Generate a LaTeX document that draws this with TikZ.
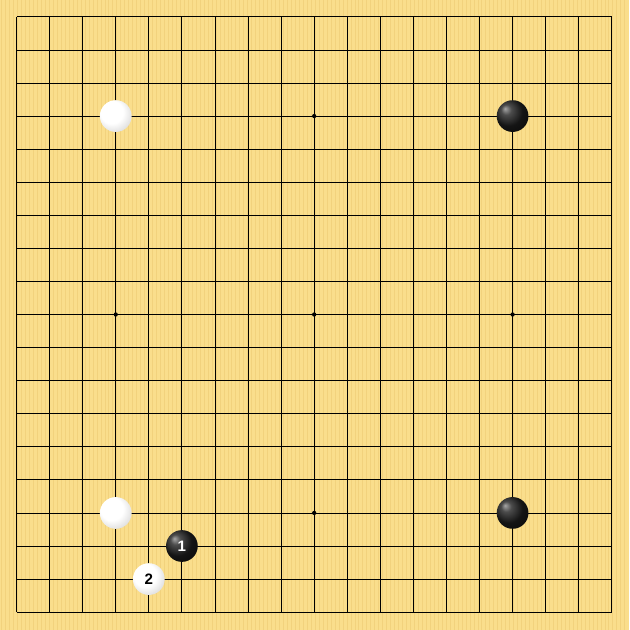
\documentclass[tikz,border=0pt]{standalone}
\usepackage{tikz}
\usepackage{fontspec}
\newfontfamily\stonefont{Liberation Sans}

\definecolor{wood}{RGB}{250,222,140}
\definecolor{woodgrain}{RGB}{236,200,112}
\pgfdeclareradialshading{whiteball}{\pgfpoint{-10bp}{10bp}}{%
  color(0bp)=(white); color(18bp)=(white); color(30bp)=(black!12);
  color(42bp)=(black!35); color(50bp)=(black!45)}
\pgfdeclareradialshading{blackball}{\pgfpoint{-12bp}{12bp}}{%
  color(0bp)=(black!35); color(8bp)=(black!70); color(22bp)=(black!92);
  color(50bp)=(black)}
\tikzset{
  stone/.style={circle, inner sep=0pt, minimum size=0.96cm,
    font=\stonefont\fontsize{13}{13}\selectfont\bfseries},
  blackstone/.style={stone, shading=blackball, text=white},
  whitestone/.style={stone, shading=whiteball, text=black},
  hoshi/.style={circle, fill=black, inner sep=0pt, minimum size=0.13cm}
}

\begin{document}
\begin{tikzpicture}[x=1cm, y=-1cm]
    % Board
    \fill[wood] (-0.5,-0.5) rectangle (18.53,18.53);
    \foreach \x in {-0.45,-0.33,...,18.5}
      \draw[woodgrain, line width=0.02cm, opacity=0.5] (\x,-0.5) -- (\x,18.53);
    % Lines
    \foreach \i in {0,...,18} {
      \draw[line width=0.7pt] (\i,0) -- (\i,18);
      \draw[line width=0.7pt] (0,\i) -- (18,\i);
    }
    % Star points
    \foreach \x in {3,9,15}
      \foreach \y in {3,9,15}
        \node[hoshi] (h\x\y) at (\x,\y) {};
    % Stones
    \node[whitestone] (wul) at (3,3) {};
    \node[blackstone] (bur) at (15,3) {};
    \node[whitestone] (wll) at (3,15) {};
    \node[blackstone] (blr) at (15,15) {};
    % Moves
    \node[blackstone] (move1) at (5,16) {1};
    \node[whitestone] (move2) at (4,17) {2};
\end{tikzpicture}
\end{document}
